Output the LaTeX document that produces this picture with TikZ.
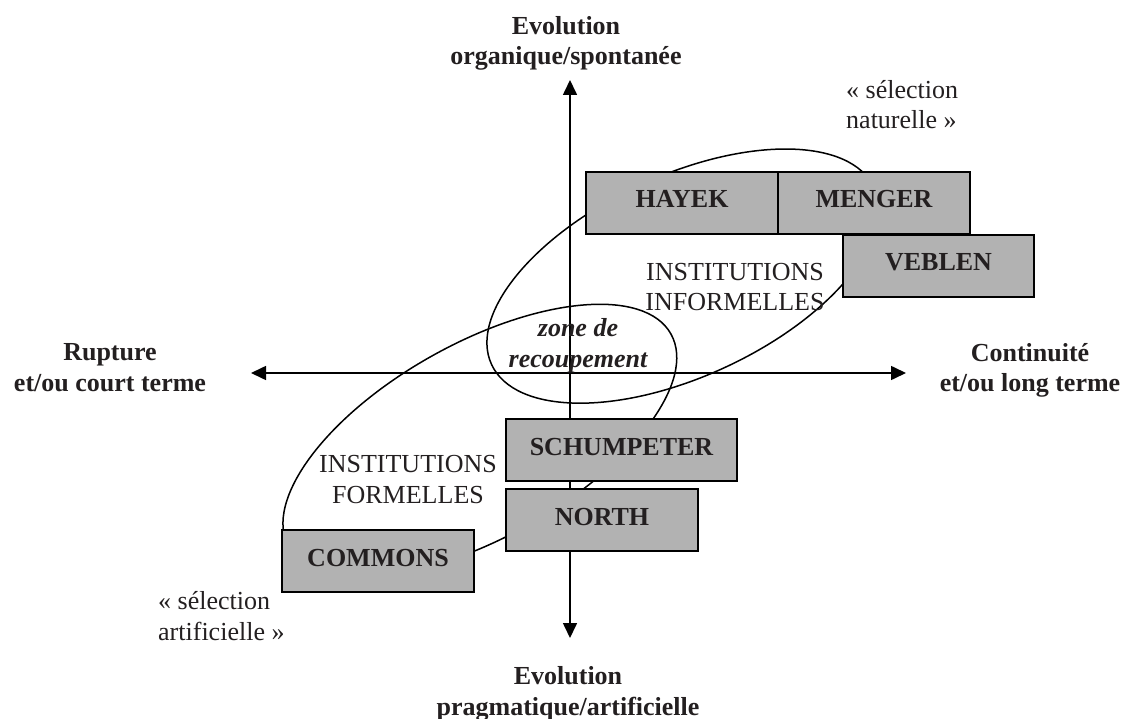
\documentclass[tikz,border=0pt]{standalone}
\usepackage{fontspec}
\setmainfont{Liberation Serif}
\usetikzlibrary{arrows.meta}
\definecolor{boxgray}{RGB}{178,178,178}
\definecolor{ink}{RGB}{35,31,32}
\begin{document}
\begin{tikzpicture}[x=1pt,y=-1pt,
  author/.style={draw=black, line width=2pt, fill=boxgray, minimum height=62pt,
    inner sep=0pt, font=\fontsize{26}{30.5}\selectfont\bfseries, text=ink,
    text height=17pt, text depth=7pt},
  axisline/.style={line width=1.6pt, {Triangle[length=15pt,width=14pt]}-{Triangle[length=15pt,width=14pt]}},
  loopline/.style={line width=1.5pt},
  boldlabel/.style={align=center, inner sep=0pt, font=\fontsize{26}{30.5}\selectfont\bfseries, text=ink},
  plainlabel/.style={inner sep=0pt, font=\fontsize{26}{30.5}\selectfont, text=ink}]
\useasboundingbox (0,0) rectangle (1124,719);

% ellipses
\draw[loopline, rotate around={24.8:(682.8,276.1)}] (682.8,276.1) ellipse [x radius=210.7pt, y radius=100.6pt];
\draw[loopline, rotate around={29.17:(479.85,440.65)}] (479.85,440.65) ellipse [x radius=218.85pt, y radius=97.3pt];

% axes
\coordinate (ytop) at (570,80);
\coordinate (ybot) at (570,638);
\coordinate (xleft) at (251,373);
\coordinate (xright) at (906,373);
\draw[axisline] (ybot) -- (ytop);
\draw[axisline] (xleft) -- (xright);

% boxes
\node[author, minimum width=192pt] (hayek) at (682,203) {HAYEK};
\node[author, minimum width=192pt] (menger) at (874,203) {MENGER};
\node[author, minimum width=191pt] (veblen) at (938.5,266) {VEBLEN};
\node[author, minimum width=231pt] (schumpeter) at (621.5,450) {SCHUMPETER};
\node[author, minimum width=192pt] (north) at (602,520) {NORTH};
\node[author, minimum width=192pt] (commons) at (378,561) {COMMONS};

% axis labels
\node[boldlabel] (toplabel) at (566,43.5) {Evolution\\organique/spontanée};
\node[boldlabel] (botlabel) at (568,694) {Evolution\\pragmatique/artificielle};
\node[boldlabel] (leftlabel) at (110,367.8) {Rupture\\et/ou court terme};
\node[boldlabel] (rightlabel) at (1030,370.4) {Continuité\\et/ou long terme};

% other labels
\node[plainlabel, align=left, anchor=west] (natsel) at (846,104.4) {« sélection\\naturelle »};
\node[plainlabel, align=left, anchor=west] (artsel) at (158,616) {« sélection\\artificielle »};
\node[plainlabel, align=center] (informal) at (735,286.9) {INSTITUTIONS\\INFORMELLES};
\node[plainlabel, align=center] (formal) at (408,479.7) {INSTITUTIONS\\FORMELLES};
\node[boldlabel, font=\fontsize{26}{30.5}\selectfont\bfseries\itshape] (zone) at (578,345.5) {zone de\\recoupement};
\end{tikzpicture}
\end{document}
